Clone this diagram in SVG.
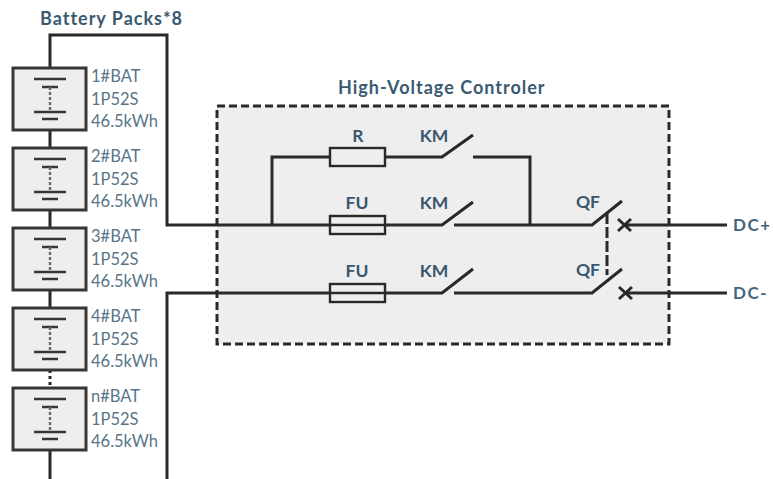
<svg xmlns="http://www.w3.org/2000/svg" width="773" height="479" viewBox="0 0 773 479">
<style>
.w{fill:none;stroke:#2b2825;stroke-width:3}
.t{fill:none;stroke:#2b2825;stroke-width:2.4}
.box{fill:#eeeeee;stroke:#3a3633;stroke-width:3}
.cell{stroke:#3a3633;stroke-width:2.6;fill:none}
.dash{stroke:#6b6764;stroke-width:2.4;stroke-dasharray:3 2;fill:none}
text{font-family:"Lato","Liberation Sans",sans-serif}
.lbl{font-size:16.5px;fill:#587589}
.h{font-size:18px;font-weight:700;fill:#3a5a72;letter-spacing:1px}
.c{font-size:17.5px;font-weight:700;fill:#3a566f;text-anchor:middle}
.dc{font-size:17px;font-weight:700;fill:#44657d;letter-spacing:1.5px}
</style>
<defs>
<g id="cellsym">
<path class="cell" d="M34 11H66M42 19H58M34 44H66M42 51H58"/>
<path class="dash" d="M50 19V44"/>
</g>
</defs>
<rect id="hv-panel" x="217" y="106" width="452" height="238" fill="#eeeeee" stroke="#2b2825" stroke-width="3" stroke-dasharray="8 4"/>
<g id="connectors">
<path class="w" d="M50 68V35H167V225H217"/>
<path class="w" d="M167 479V293H217"/>
<path class="w" d="M50 130V148M50 210V228M50 290V308M50 450V479"/>
<path class="w" stroke-dasharray="3 3" d="M50 370V388"/>
<path class="w" d="M217 225H330M385 225H442L473 202M454 225H592L622 201"/>
<path class="w" d="M272 225V157H330M385 157H442L473 135M473 157H530V225"/>
<path class="w" d="M217 293H330M385 293H442L473 269M454 293H592L622 269"/>
<path class="w" stroke-dasharray="11 3" d="M607 213V275"/>
<path class="w" d="M727 225H625M618 219L631 231M618 231L631 219"/>
<path class="w" d="M727 293H625M619 287L632 299M619 299L632 287"/>
</g>
<g id="bat1"><rect class="box" x="13" y="68" width="73" height="62"/><use href="#cellsym" y="68"/><text class="lbl" x="91" y="82">1#BAT</text><text class="lbl" x="91" y="105">1P52S</text><text class="lbl" x="91" y="127">46.5kWh</text></g>
<g id="bat2"><rect class="box" x="13" y="148" width="73" height="62"/><use href="#cellsym" y="148"/><text class="lbl" x="91" y="162">2#BAT</text><text class="lbl" x="91" y="185">1P52S</text><text class="lbl" x="91" y="207">46.5kWh</text></g>
<g id="bat3"><rect class="box" x="13" y="228" width="73" height="62"/><use href="#cellsym" y="228"/><text class="lbl" x="91" y="242">3#BAT</text><text class="lbl" x="91" y="265">1P52S</text><text class="lbl" x="91" y="287">46.5kWh</text></g>
<g id="bat4"><rect class="box" x="13" y="308" width="73" height="62"/><use href="#cellsym" y="308"/><text class="lbl" x="91" y="322">4#BAT</text><text class="lbl" x="91" y="345">1P52S</text><text class="lbl" x="91" y="367">46.5kWh</text></g>
<g id="batn"><rect class="box" x="13" y="388" width="73" height="62"/><use href="#cellsym" y="388"/><text class="lbl" x="91" y="402">n#BAT</text><text class="lbl" x="91" y="425">1P52S</text><text class="lbl" x="91" y="447">46.5kWh</text></g>
<g id="r"><rect class="t" x="330" y="148" width="55" height="18"/><text class="c" x="358" y="142">R</text></g>
<g id="fu1"><rect class="t" x="330" y="216" width="55" height="18"/><path class="t" d="M330 225H385"/><text class="c" x="357" y="209">FU</text></g>
<g id="fu2"><rect class="t" x="330" y="284" width="55" height="18"/><path class="t" d="M330 293H385"/><text class="c" x="357" y="277">FU</text></g>
<g id="km"><text class="c" x="434" y="142">KM</text><text class="c" x="434" y="209">KM</text><text class="c" x="434" y="277">KM</text></g>
<g id="qf"><text class="c" x="588" y="208">QF</text><text class="c" x="588" y="276">QF</text></g>
<g id="labels"><text class="h" x="40" y="25">Battery Packs*8</text><text class="h" x="338" y="94">High-Voltage Controler</text><text class="dc" x="733" y="231">DC+</text><text class="dc" x="733" y="299">DC-</text></g>
</svg>
